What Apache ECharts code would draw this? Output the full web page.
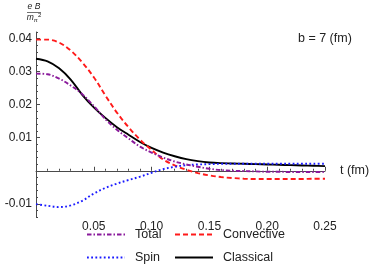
<!DOCTYPE html>
<html>
<head>
<meta charset="utf-8">
<script src="https://cdn.jsdelivr.net/npm/echarts@6/dist/echarts.min.js"></script>
<style>html,body{margin:0;padding:0;background:#fff}#c{width:373px;height:273px}</style>
</head>
<body>
<div id="c"></div>
<script>
var tValues = [0.00,0.01,0.02,0.03,0.04,0.05,0.06,0.07,0.08,0.09,0.10,0.11,0.12,0.13,0.14,0.15,0.16,0.17,0.18,0.19,0.20,0.21,0.22,0.23,0.24,0.25];
var totalValues = [0.0294,0.0292,0.0279,0.0258,0.0232,0.0196,0.0156,0.0124,0.0098,0.0073,0.0055,0.0040,0.0028,0.0019,0.0012,0.0006,0.0002,0.0000,-0.0001,-0.0002,-0.0003,-0.0003,-0.0004,-0.0004,-0.0004,-0.0004];
var convectiveValues = [0.0397,0.0397,0.0388,0.0364,0.0328,0.0283,0.0228,0.0176,0.0132,0.0094,0.0063,0.0034,0.0016,0.0003,-0.0007,-0.0014,-0.0019,-0.0022,-0.0024,-0.0025,-0.0025,-0.0025,-0.0025,-0.0025,-0.0024,-0.0024];
var spinValues = [-0.0101,-0.0106,-0.0110,-0.0105,-0.0091,-0.0069,-0.0052,-0.0039,-0.0028,-0.0018,-0.0006,0.0005,0.0012,0.0017,0.0019,0.0020,0.0021,0.0021,0.0021,0.0021,0.0021,0.0021,0.0021,0.0021,0.0021,0.0021];
var classicalValues = [0.0339,0.0331,0.0310,0.0276,0.0230,0.0192,0.0160,0.0132,0.0109,0.0087,0.0069,0.0055,0.0044,0.0035,0.0029,0.0025,0.0023,0.0022,0.0021,0.0020,0.0019,0.0018,0.0017,0.0016,0.0015,0.0014];
var seriesNames = ['Total','Convective','Spin','Classical'];
var yMajorTicks = [-0.01,0,0.01,0.02,0.03,0.04];
var yTickLabels = [-0.01,0.01,0.02,0.03,0.04];
var xTickLabels = [0.05,0.10,0.15,0.20,0.25];

function pairs(vals){ return tValues.map(function(t,i){ return [t, vals[i]]; }); }

var chart = echarts.init(document.getElementById('c'), null, {renderer:'canvas'});
var font = 'Liberation Sans, Arial, sans-serif';
var axisColor = '#4a4a4a';
var legendBase = {orient:'horizontal', itemWidth:38, itemHeight:12, padding:0,
  itemStyle:{color:'rgba(0,0,0,0)', borderColor:'rgba(0,0,0,0)', borderWidth:0, opacity:0},
  textStyle:{fontFamily:font, fontSize:12.5, color:'#222', padding:[0,0,0,5]}};

chart.setOption({
  animation:false,
  grid:{left:36, top:32, width:289, height:185, containLabel:false},
  xAxis:{type:'value', min:0, max:0.25, interval:0.05,
    axisLine:{onZero:true, lineStyle:{color:axisColor, width:1}},
    axisTick:{inside:true, length:4, lineStyle:{color:axisColor}},
    minorTick:{show:true, splitNumber:5, length:2, lineStyle:{color:axisColor}},
    splitLine:{show:false},
    axisLabel:{margin:4, fontFamily:font, fontSize:12, color:'#222',
      formatter:function(v){ return xTickLabels.indexOf(Math.round(v*100)/100) >= 0 ? v.toFixed(2) : ''; }}
  },
  yAxis:[
    {type:'value', min:-0.014, max:0.042, interval:0.002,
      axisLine:{show:true, onZero:false, lineStyle:{color:axisColor, width:1}},
      axisTick:{inside:true, length:2, lineStyle:{color:axisColor}},
      axisLabel:{show:false}, splitLine:{show:false}},
    {type:'value', min:-0.014, max:0.042, position:'left',
      axisLine:{show:false, onZero:false},
      axisTick:{show:true, inside:true, length:4, customValues:yMajorTicks, lineStyle:{color:axisColor}},
      axisLabel:{show:true, margin:4, fontFamily:font, fontSize:12, color:'#222', customValues:yTickLabels,
        formatter:function(v){ return v.toFixed(2); }},
      splitLine:{show:false}}
  ],
  legend:[
    Object.assign({data:['Total'], left:86, top:228}, legendBase),
    Object.assign({data:['Convective'], left:174, top:228}, legendBase),
    Object.assign({data:['Spin'], left:86, top:251}, legendBase),
    Object.assign({data:['Classical'], left:174, top:251}, legendBase)
  ],
  series:[
    {name:'Total', type:'line', symbol:'none', smooth:0.35, data:pairs(totalValues), z:4,
      lineStyle:{color:'#8a1a9b', width:1.9, type:[4.5,2,1.5,2]}, itemStyle:{color:'#8a1a9b'}},
    {name:'Convective', type:'line', symbol:'none', smooth:0.35, data:pairs(convectiveValues), z:3,
      lineStyle:{color:'#ff1a1a', width:1.9, type:[5,3]}, itemStyle:{color:'#ff1a1a'}},
    {name:'Spin', type:'line', symbol:'none', smooth:0.35, data:pairs(spinValues), z:3,
      lineStyle:{color:'#1a1aff', width:1.9, type:[1.8,2.4]}, itemStyle:{color:'#1a1aff'}},
    {name:'Classical', type:'line', symbol:'none', smooth:0.35, data:pairs(classicalValues), z:2,
      lineStyle:{color:'#000000', width:1.9, type:'solid'}, itemStyle:{color:'#000000'}}
  ],
  graphic:[
    {type:'text', left:340, top:164, style:{text:'t (fm)', fontFamily:font, fontSize:12.5, fill:'#222'}},
    {type:'text', left:298, top:32, style:{text:'b = 7 (fm)', fontFamily:font, fontSize:12.5, fill:'#222'}},
    {type:'text', x:34, y:6.5, style:{text:'e B', fontFamily:font, fontStyle:'italic', fontSize:8.5, fill:'#222', align:'center', verticalAlign:'middle'}},
    {type:'line', shape:{x1:27, y1:12.5, x2:41, y2:12.5}, style:{stroke:'#333', lineWidth:0.7}},
    {type:'text', x:34, y:18, style:{text:'{m|m}{s|π}{p|2}', align:'center', verticalAlign:'middle',
      rich:{m:{fontFamily:font, fontStyle:'italic', fontSize:8.5, fill:'#222', verticalAlign:'middle'},
            s:{fontFamily:font, fontStyle:'italic', fontSize:6, fill:'#222', padding:[4,0,0,0]},
            p:{fontFamily:font, fontSize:6, fill:'#222', padding:[0,0,6,0]}}}}
  ]
});
</script>
</body>
</html>
